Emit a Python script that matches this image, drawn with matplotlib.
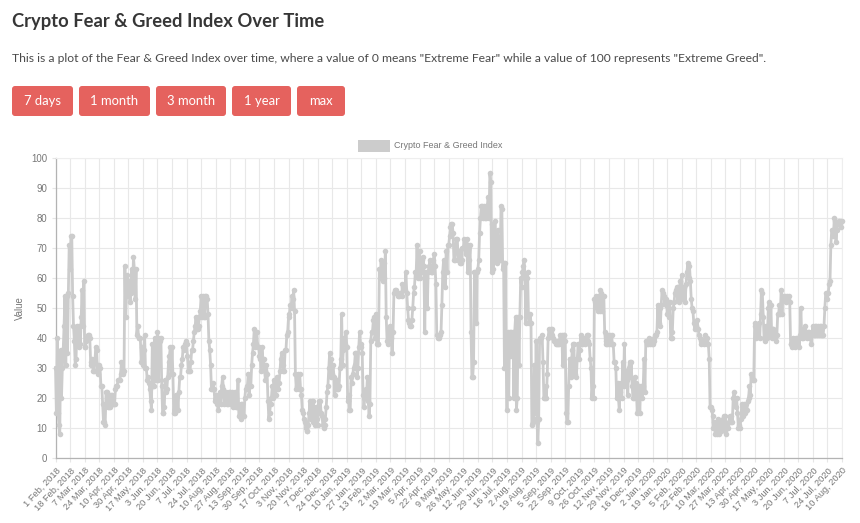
import matplotlib
matplotlib.use('Agg')
import matplotlib.pyplot as plt
from matplotlib.patches import FancyBboxPatch, Rectangle
import numpy as np

title = 'Crypto Fear & Greed Index Over Time'
subtitle = 'This is a plot of the Fear & Greed Index over time, where a value of 0 means "Extreme Fear" while a value of 100 represents "Extreme Greed".'
series_name = 'Crypto Fear & Greed Index'
buttons = ['7 days', '1 month', '3 month', '1 year', 'max']

tick_labels = [
    '1 Feb, 2018', '18 Feb, 2018', '7 Mar, 2018', '24 Mar, 2018', '10 Apr, 2018', '30 Apr, 2018',
    '17 May, 2018', '3 Jun, 2018', '20 Jun, 2018', '7 Jul, 2018', '24 Jul, 2018', '10 Aug, 2018',
    '27 Aug, 2018', '13 Sep, 2018', '30 Sep, 2018', '17 Oct, 2018', '3 Nov, 2018', '20 Nov, 2018',
    '7 Dec, 2018', '24 Dec, 2018', '10 Jan, 2019', '27 Jan, 2019', '13 Feb, 2019', '2 Mar, 2019',
    '19 Mar, 2019', '5 Apr, 2019', '22 Apr, 2019', '9 May, 2019', '26 May, 2019', '12 Jun, 2019',
    '29 Jun, 2019', '16 Jul, 2019', '2 Aug, 2019', '19 Aug, 2019', '5 Sep, 2019', '22 Sep, 2019',
    '9 Oct, 2019', '26 Oct, 2019', '12 Nov, 2019', '29 Nov, 2019', '16 Dec, 2019', '2 Jan, 2020',
    '19 Jan, 2020', '5 Feb, 2020', '22 Feb, 2020', '10 Mar, 2020', '27 Mar, 2020', '13 Apr, 2020',
    '30 Apr, 2020', '17 May, 2020', '3 Jun, 2020', '20 Jun, 2020', '7 Jul, 2020', '24 Jul, 2020',
    '10 Aug, 2020',
]

# one row per labelled tick, 17 readings each
index_values = [
    30, 15, 40, 15, 11, 8, 36, 20, 30, 36, 44, 54, 31, 54, 35, 55, 71,
    63, 74, 74, 54, 44, 39, 31, 33, 44, 38, 37, 44, 38, 47, 56, 44, 59,
    37, 37, 39, 40, 41, 41, 40, 32, 31, 33, 29, 29, 32, 37, 36, 29, 28,
    31, 30, 24, 24, 18, 12, 12, 11, 22, 22, 17, 17, 21, 17, 21, 21, 18,
    18, 18, 23, 24, 24, 26, 26, 26, 28, 32, 29, 28, 29, 64, 47, 55, 61,
    54, 59, 52, 55, 63, 56, 67, 63, 53, 63, 41, 44, 40, 40, 40, 32, 37,
    31, 36, 41, 30, 30, 26, 27, 25, 23, 19, 16, 38, 24, 24, 40, 26, 26,
    42, 26, 40, 39, 40, 24, 15, 15, 17, 26, 22, 23, 27, 32, 34, 37, 28,
    37, 28, 15, 17, 15, 21, 21, 16, 22, 27, 27, 31, 33, 37, 36, 38, 39,
    38, 34, 29, 29, 29, 32, 36, 36, 39, 42, 44, 47, 43, 43, 44, 47, 49,
    54, 47, 54, 47, 47, 54, 54, 53, 48, 39, 36, 31, 23, 23, 25, 23, 19,
    21, 18, 19, 16, 21, 22, 18, 24, 27, 23, 18, 20, 22, 18, 18, 22, 19,
    22, 18, 22, 17, 18, 22, 18, 17, 17, 26, 14, 14, 13, 18, 18, 14, 14,
    20, 23, 23, 24, 28, 21, 24, 24, 31, 35, 38, 43, 37, 38, 42, 37, 37,
    34, 33, 29, 37, 33, 33, 29, 26, 31, 28, 19, 13, 15, 18, 20, 24, 20,
    26, 21, 21, 27, 23, 23, 25, 29, 33, 35, 31, 29, 29, 36, 36, 41, 42,
    47, 48, 51, 50, 54, 53, 56, 49, 28, 23, 24, 28, 23, 28, 23, 21, 16,
    15, 13, 12, 10, 9, 9, 11, 15, 19, 13, 19, 12, 19, 14, 11, 17, 13,
    11, 19, 15, 19, 15, 14, 11, 10, 11, 13, 17, 22, 24, 30, 35, 27, 33,
    28, 31, 27, 21, 25, 26, 23, 23, 24, 30, 33, 48, 31, 36, 40, 38, 42,
    37, 19, 21, 16, 16, 27, 25, 28, 30, 31, 35, 35, 27, 30, 37, 42, 37,
    38, 35, 21, 17, 20, 23, 20, 27, 19, 14, 18, 39, 42, 42, 46, 47, 40,
    48, 38, 38, 38, 63, 60, 66, 65, 59, 65, 60, 69, 47, 39, 38, 40, 44,
    43, 40, 35, 42, 55, 56, 55, 56, 55, 54, 54, 55, 55, 54, 58, 57, 56,
    56, 62, 55, 50, 46, 45, 44, 44, 46, 50, 55, 57, 62, 62, 71, 60, 66,
    69, 60, 62, 66, 67, 64, 42, 62, 60, 50, 62, 64, 66, 62, 62, 62, 66,
    68, 64, 58, 41, 41, 40, 40, 41, 42, 51, 62, 66, 60, 57, 69, 62, 71,
    71, 74, 77, 78, 78, 75, 66, 66, 69, 73, 73, 66, 69, 65, 65, 66, 70,
    70, 73, 72, 68, 73, 62, 71, 66, 71, 42, 27, 27, 32, 62, 62, 45, 62,
    63, 66, 75, 80, 84, 84, 80, 84, 80, 84, 80, 84, 87, 80, 95, 92, 62,
    78, 63, 72, 79, 70, 65, 76, 66, 73, 66, 84, 83, 63, 65, 30, 65, 33,
    16, 42, 20, 42, 34, 42, 34, 42, 20, 42, 47, 16, 20, 47, 31, 47, 60,
    57, 62, 64, 66, 60, 45, 60, 62, 48, 45, 48, 45, 11, 12, 13, 31, 15,
    39, 12, 5, 13, 39, 40, 40, 41, 32, 20, 20, 24, 20, 28, 40, 43, 41,
    43, 41, 43, 40, 39, 39, 38, 38, 38, 39, 38, 41, 40, 41, 31, 41, 41,
    39, 15, 12, 12, 24, 33, 33, 27, 36, 38, 38, 28, 33, 27, 33, 38, 33,
    36, 41, 38, 38, 40, 39, 38, 40, 41, 41, 39, 38, 33, 30, 20, 24, 20,
    53, 52, 54, 50, 49, 54, 49, 56, 55, 49, 54, 54, 42, 38, 39, 38, 41,
    38, 41, 38, 41, 38, 38, 32, 32, 30, 20, 25, 20, 16, 22, 25, 20, 32,
    24, 38, 25, 29, 26, 21, 30, 32, 27, 32, 24, 20, 20, 27, 25, 22, 15,
    22, 24, 15, 24, 22, 20, 24, 33, 22, 39, 38, 38, 39, 40, 38, 39, 38,
    38, 39, 40, 41, 41, 42, 51, 45, 50, 44, 51, 56, 55, 54, 52, 51, 53,
    48, 52, 47, 52, 40, 40, 42, 50, 52, 55, 56, 57, 53, 57, 52, 59, 57,
    61, 53, 57, 57, 52, 58, 62, 65, 60, 64, 59, 53, 50, 49, 45, 43, 45,
    44, 46, 43, 41, 40, 39, 38, 39, 39, 38, 41, 39, 40, 38, 38, 33, 17,
    17, 16, 14, 10, 12, 8, 11, 8, 13, 10, 8, 12, 9, 10, 13, 14, 9,
    14, 8, 11, 10, 12, 14, 12, 14, 12, 20, 22, 20, 17, 20, 15, 10, 11,
    10, 13, 18, 16, 14, 18, 15, 18, 16, 19, 20, 24, 21, 28, 27, 26, 26,
    44, 45, 40, 44, 44, 45, 40, 48, 56, 55, 47, 40, 39, 44, 40, 41, 50,
    52, 41, 51, 40, 43, 43, 42, 40, 39, 41, 48, 48, 51, 48, 56, 48, 54,
    53, 54, 53, 52, 54, 53, 54, 52, 38, 38, 37, 40, 38, 37, 40, 39, 38,
    40, 37, 41, 50, 40, 40, 43, 41, 44, 42, 40, 42, 42, 41, 40, 38, 41,
    44, 41, 44, 41, 44, 41, 44, 41, 44, 41, 44, 41, 41, 44, 50, 55, 55,
    53, 55, 58, 59, 71, 76, 76, 74, 80, 79, 72, 76, 78, 78, 79, 78, 77,
    79,
]

tick_step = 17
y_ticks = list(range(0, 101, 10))

W, H = 860, 523
page_font = 'Lato'
chart_font = 'Liberation Sans'
chart_text = '#777777'

fig = plt.figure(figsize=(W / 100, H / 100), dpi=100, facecolor='white')

# page layer in pixel coordinates, y going down like the screenshot
page = fig.add_axes([0, 0, 1, 1])
page.set_xlim(0, W)
page.set_ylim(H, 0)
page.axis('off')

page.text(12, 22, title, fontsize=13.25, fontweight='bold', color='#363636',
          family=page_font, va='center', ha='left')
page.text(12, 59, subtitle, fontsize=8.78, color='#4a4a4a',
          family=page_font, va='center', ha='left')

button_edges = [(12, 73), (79, 150), (156, 226), (232, 291), (297, 345)]
for (x0, x1), name in zip(button_edges, buttons):
    page.add_patch(FancyBboxPatch((x0 + 3, 86 + 3), x1 - x0 - 6, 24,
                                  boxstyle='round,pad=3,rounding_size=3',
                                  fc='#e5625e', ec='none'))
    page.text((x0 + x1) / 2, 101, name, fontsize=9.4, color='white', family=page_font,
              ha='center', va='center')

# legend
page.add_patch(Rectangle((358, 140), 32, 12, fc='#cccccc', ec='none'))
page.text(394, 146, series_name, fontsize=6.5, color=chart_text, family=chart_font,
          ha='left', va='center')

# chart
left, right, top, bottom = 55.5, 842, 158, 457.5
ax = fig.add_axes([left / W, 1 - bottom / H, (right - left) / W, (bottom - top) / H])
ax.patch.set_alpha(0)
x = np.arange(len(index_values))
ax.plot(x, index_values, color='#cccccc', lw=2.0, marker='o', ms=4.0, mew=0,
        clip_on=False, zorder=3)

ax.set_xlim(0, tick_step * (len(tick_labels) - 1))
ax.set_ylim(0, 100)
ax.set_xticks(np.arange(len(tick_labels)) * tick_step)
ax.set_xticklabels(tick_labels, rotation=47, ha='right', va='top', rotation_mode='anchor',
                   fontsize=6.7, color=chart_text, family=chart_font)
ax.set_yticks(y_ticks)
ax.set_yticklabels(y_ticks, fontsize=6.9, color=chart_text, family=chart_font)
ax.tick_params(axis='both', length=3, width=0.8, color='#e6e6e6', pad=3)
ax.grid(True, color='#e8e8e8', lw=0.8)
ax.set_axisbelow(True)
for side in ['top', 'right']:
    ax.spines[side].set_color('#eeeeee')
    ax.spines[side].set_linewidth(0.8)
for side in ['left', 'bottom']:
    ax.spines[side].set_color('#b3b3b3')
    ax.spines[side].set_linewidth(0.9)

page.text(20, 308, 'Value', fontsize=6.9, color=chart_text, family=chart_font,
          rotation=90, ha='center', va='center')

fig.savefig('out.png', dpi=100)
